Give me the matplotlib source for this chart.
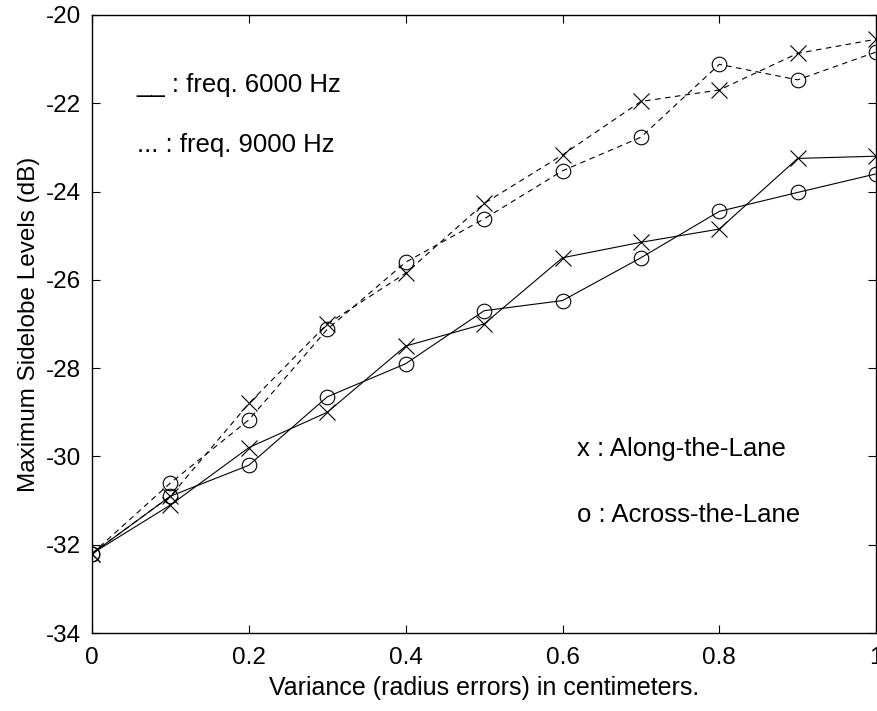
import numpy as np
import matplotlib
matplotlib.use('Agg')
import matplotlib.pyplot as plt

plt.rcParams['font.family'] = ['Liberation Sans', 'DejaVu Sans']
plt.rcParams['axes.unicode_minus'] = False

variance = [0.0, 0.1, 0.2, 0.3, 0.4, 0.5, 0.6, 0.7, 0.8, 0.9, 1.0]

# 6000 Hz (solid)
along_6000 = [-32.2, -31.1, -29.8, -29.0, -27.5, -27.0, -25.5, -25.15, -24.85, -23.25, -23.2]
across_6000 = [-32.2, -30.9, -30.2, -28.65, -27.9, -26.7, -26.47, -25.5, -24.45, -24.02, -23.6]

# 9000 Hz (dashed)
along_9000 = [-32.2, -30.9, -28.8, -27.0, -25.85, -24.27, -23.17, -21.96, -21.7, -20.87, -20.55]
across_9000 = [-32.2, -30.6, -29.17, -27.12, -25.6, -24.62, -23.53, -22.77, -21.12, -21.47, -20.84]

fig = plt.figure(figsize=(8.77, 7.11), dpi=100)
ax = fig.add_axes([0.105, 0.1097, 0.894, 0.8693])

lw = 0.8
ax.plot(variance, along_6000, '-', color='k', lw=lw, marker='x', ms=12, mew=0.8)
ax.plot(variance, across_6000, '-', color='k', lw=lw, marker='o', ms=10.5, mfc='none', mew=0.8)
ax.plot(variance, along_9000, '--', color='k', lw=lw, marker='x', ms=12, mew=0.8, dashes=(5, 4))
ax.plot(variance, across_9000, '--', color='k', lw=lw, marker='o', ms=10.5, mfc='none', mew=0.8, dashes=(5, 4))

ax.set_xlim(0, 1)
ax.set_ylim(-34, -20)
ax.set_xticks([0, 0.2, 0.4, 0.6, 0.8, 1])
ax.set_xticklabels(['0', '0.2', '0.4', '0.6', '0.8', '1'])
ax.set_yticks(np.arange(-34, -19, 2))
ax.tick_params(direction='in', top=True, right=True, length=6, labelsize=17.5)
ax.tick_params(axis='x', pad=10)
ax.tick_params(axis='y', pad=8)
for s in ax.spines.values():
    s.set_linewidth(1.0)

ax.set_xlabel('Variance (radius errors) in centimeters.', fontsize=18, labelpad=5)
ax.set_ylabel('Maximum Sidelobe Levels (dB)', fontsize=17.5, labelpad=4)

ax.text(0.057, -21.74, '__ : freq. 6000 Hz', fontsize=18.5, va='baseline')
ax.text(0.057, -23.10, '... : freq. 9000 Hz', fontsize=18.5, va='baseline')
ax.text(0.618, -30.0, 'x : Along-the-Lane', fontsize=18.5, va='baseline')
ax.text(0.618, -31.48, 'o : Across-the-Lane', fontsize=18.5, va='baseline')

fig.savefig('out.png', dpi=100)
